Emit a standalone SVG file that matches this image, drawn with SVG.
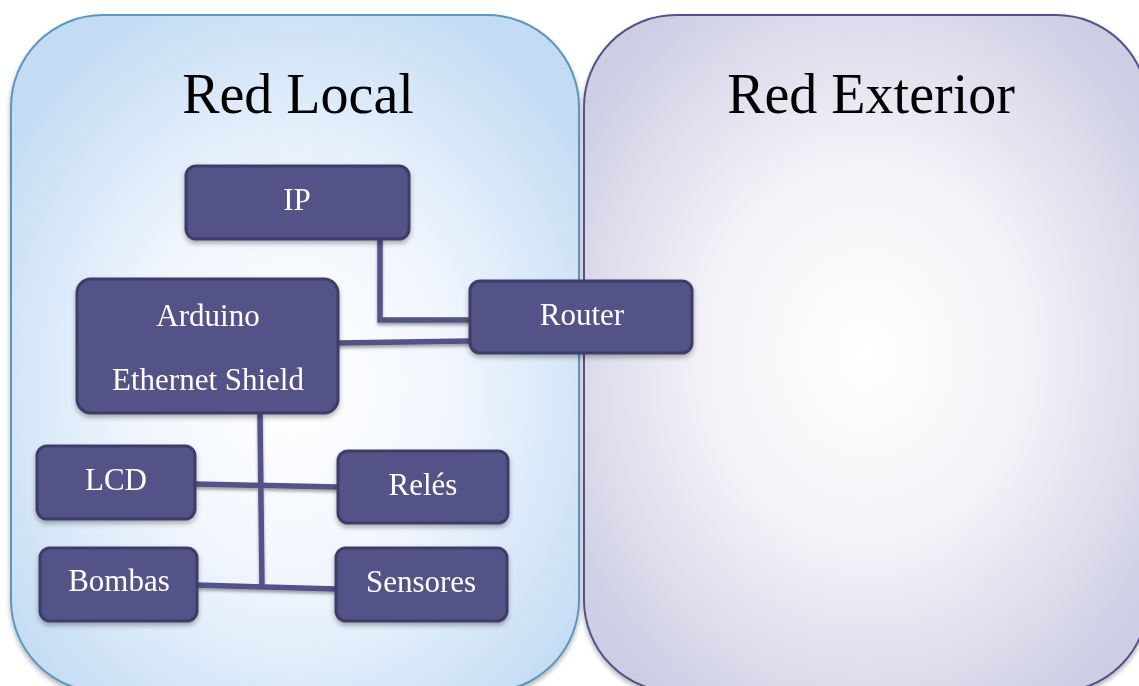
<svg xmlns="http://www.w3.org/2000/svg" width="1139" height="686" viewBox="0 0 1139 686">
<defs>
<radialGradient id="gLocal" cx="0.5" cy="0.55" r="0.62">
<stop offset="0" stop-color="#ffffff"/>
<stop offset="0.45" stop-color="#f1f6fd"/>
<stop offset="1" stop-color="#c3dcf4"/>
</radialGradient>
<radialGradient id="gExt" cx="0.5" cy="0.5" r="0.62">
<stop offset="0" stop-color="#ffffff"/>
<stop offset="0.45" stop-color="#f3f3f8"/>
<stop offset="1" stop-color="#cdcde4"/>
</radialGradient>
<filter id="sh" x="-10%" y="-10%" width="120%" height="130%">
<feDropShadow dx="0" dy="3" stdDeviation="2.5" flood-color="#000" flood-opacity="0.3"/>
</filter>
<filter id="shl" x="-10%" y="-10%" width="120%" height="130%">
<feDropShadow dx="0" dy="2.5" stdDeviation="1.8" flood-color="#000" flood-opacity="0.35"/>
</filter>
</defs>
<style>
.title{font-family:"Liberation Serif","Times New Roman",serif;font-size:56px;fill:#000;text-anchor:middle}
.box{fill:#535388;stroke:#3d3d68;stroke-width:3}
.lbl{font-family:"Liberation Serif","Times New Roman",serif;font-size:31px;fill:#fff;text-anchor:middle}
.con{fill:none;stroke:#535388;stroke-width:5.5;stroke-linejoin:miter}
</style>
<rect width="1139" height="686" fill="#ffffff"/>
<g id="panel-local">
<rect x="11" y="15" width="568" height="677" rx="92" ry="92" fill="url(#gLocal)" stroke="#5c97bd" stroke-width="2" filter="url(#sh)"/>
<text class="title" x="298" y="113">Red Local</text>
</g>
<g id="panel-exterior">
<rect x="584" y="15" width="564" height="677" rx="92" ry="92" fill="url(#gExt)" stroke="#52528a" stroke-width="2" filter="url(#sh)"/>
<text class="title" x="871" y="113">Red Exterior</text>
</g>
<g id="connectors" filter="url(#shl)">
<polyline class="con" points="380,239 380,320 470,320"/>
<line class="con" x1="338" y1="343" x2="470" y2="341"/>
<line class="con" x1="260" y1="413" x2="262" y2="588"/>
<line class="con" x1="195" y1="484" x2="338" y2="487"/>
<line class="con" x1="197" y1="585" x2="336" y2="589"/>
</g>
<g id="node-ip" filter="url(#sh)">
<rect class="box" x="186" y="166" width="223" height="73" rx="10"/>
<text class="lbl" x="297" y="210">IP</text>
</g>
<g id="node-arduino" filter="url(#sh)">
<rect class="box" x="77" y="279" width="261" height="134" rx="14"/>
<text class="lbl" x="208" y="326">Arduino</text>
<text class="lbl" x="208" y="390">Ethernet Shield</text>
</g>
<g id="node-router" filter="url(#sh)">
<rect class="box" x="470" y="281" width="222" height="72" rx="10"/>
<text class="lbl" x="582" y="325">Router</text>
</g>
<g id="node-lcd" filter="url(#sh)">
<rect class="box" x="37" y="446" width="158" height="73" rx="10"/>
<text class="lbl" x="116" y="490">LCD</text>
</g>
<g id="node-reles" filter="url(#sh)">
<rect class="box" x="338" y="451" width="170" height="72" rx="10"/>
<text class="lbl" x="423" y="495">Relés</text>
</g>
<g id="node-bombas" filter="url(#sh)">
<rect class="box" x="40" y="548" width="157" height="73" rx="10"/>
<text class="lbl" x="119" y="591">Bombas</text>
</g>
<g id="node-sensores" filter="url(#sh)">
<rect class="box" x="336" y="548" width="171" height="73" rx="10"/>
<text class="lbl" x="421" y="592">Sensores</text>
</g>
</svg>
